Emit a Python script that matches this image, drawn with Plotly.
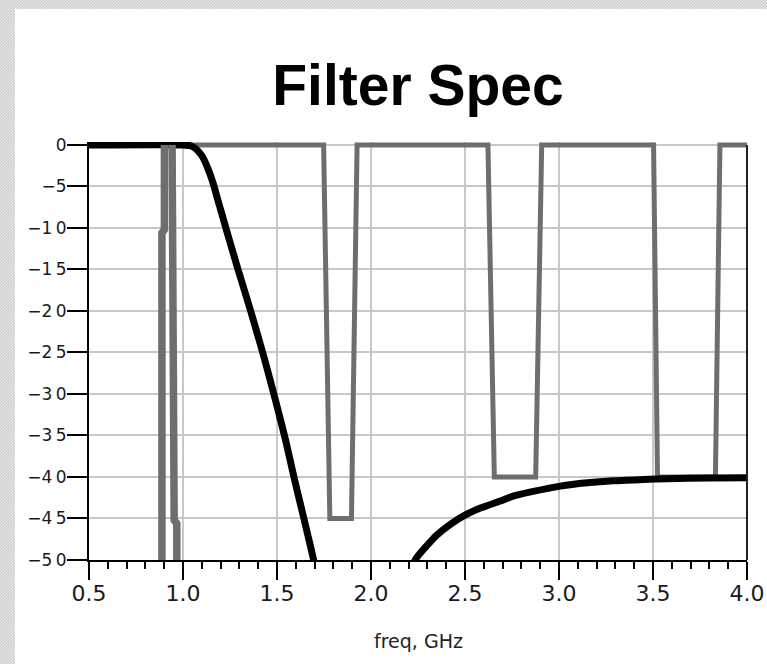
import plotly.graph_objects as go

# ---------------- data ----------------
# spec mask (gray), frequency in GHz, level in dB
mask_f = [0.5, 1.748, 1.781, 1.896, 1.926, 2.622, 2.656, 2.876, 2.908,
          3.503, 3.524, 3.832, 3.856, 4.0]
mask_db = [0, 0, -45, -45, 0, 0, -40, -40, 0, 0, -40, -40, 0, 0]

# narrow first stop band (drawn heavier)
band1_f = [0.901, 0.901, 0.888, 0.888, None, 0.967, 0.967, 0.953, 0.947, 0.943, 0.942]
band1_db = [0, -10.2, -10.6, -60, None, -60, -45.6, -45.2, -20, -8, 0]

# filter response (black)
resp_f = [0.5, 1.0, 1.04, 1.07, 1.10, 1.13, 1.16, 1.19, 1.228, 1.29, 1.36,
          1.43, 1.49, 1.545, 1.59, 1.643, 1.695, 1.75, 1.80, 1.98, 2.16, 2.235,
          2.30, 2.35, 2.422, 2.50, 2.582, 2.688, 2.757, 2.85, 3.007, 3.15, 3.288,
          3.45, 3.573, 3.8, 4.0]
resp_db = [0, 0, -0.1, -0.5, -1.3, -2.7, -4.6, -7.0, -10.0, -14.8, -20.0,
           -25.5, -30.6, -35.5, -40.0, -45.0, -50.0, -56.0, -63.0, -80.0, -56.0, -50.0,
           -48.2, -47.0, -45.7, -44.6, -43.75, -42.9, -42.3, -41.8, -41.1, -40.7, -40.45,
           -40.3, -40.2, -40.12, -40.1]

x_ticks = [0.5, 1.0, 1.5, 2.0, 2.5, 3.0, 3.5, 4.0]
x_labels = ["0.5", "1.0", "1.5", "2.0", "2.5", "3.0", "3.5", "4.0"]
y_ticks = [0, -5, -10, -15, -20, -25, -30, -35, -40, -45, -50]
y_labels = ["0", "\u22125", "\u22121\u20090", "\u22121\u20095", "\u22122\u20090", "\u22122\u20095",
            "\u22123\u20090", "\u22123\u20095", "\u22124\u20090", "\u22124\u20095", "\u22125\u20090"]

title_text = "Filter Spec"
x_title = "freq, GHz"

# ---------------- layout geometry ----------------
W, H = 767, 664
L, R, T, B = 89, 20, 142, 104
PW, PH = W - L - R, H - T - B

def px(x):
    return (x - L) / PW

def py(y):
    return (T + PH - y) / PH

GRAY = "#6e6e6e"

fig = go.Figure()
fig.add_trace(go.Scatter(x=mask_f, y=mask_db, mode="lines",
                         line=dict(color=GRAY, width=5), hoverinfo="skip"))
fig.add_trace(go.Scatter(x=resp_f, y=resp_db, mode="lines",
                         line=dict(color="black", width=7, shape="spline", smoothing=0.6),
                         hoverinfo="skip"))
fig.add_trace(go.Scatter(x=band1_f, y=band1_db, mode="lines",
                         line=dict(color=GRAY, width=7.5), hoverinfo="skip"))

# hatched border strips (left and top)
hatch_bg = "#d2d2d2"
path = []
for c in range(0, H + 20, 3):
    path.append(f"M{px(0)},{py(c)} L{px(15)},{py(c - 15)}")
for c in range(0, W + 12, 3):
    path.append(f"M{px(c - 9)},{py(9)} L{px(c)},{py(0)}")

shapes = [
    dict(type="rect", xref="paper", yref="paper", x0=px(0), x1=px(15), y0=py(H), y1=py(0),
         fillcolor=hatch_bg, line=dict(width=0), layer="below"),
    dict(type="rect", xref="paper", yref="paper", x0=px(0), x1=px(W), y0=py(9), y1=py(0),
         fillcolor=hatch_bg, line=dict(width=0), layer="below"),
    dict(type="path", xref="paper", yref="paper", path=" ".join(path),
         line=dict(color="#ebebeb", width=1), layer="below"),
    # right frame line
    dict(type="line", xref="paper", yref="paper", x0=1, x1=1, y0=0, y1=py(145),
         line=dict(color="#202020", width=2), layer="above"),
]

fig.update_layout(
    width=W, height=H,
    margin=dict(l=L, r=R, t=T, b=B, autoexpand=False),
    paper_bgcolor="white", plot_bgcolor="white",
    showlegend=False,
    shapes=shapes,
    title=dict(text=f"<b>{title_text}</b>", x=(L + PW / 2) / W, xanchor="center",
               y=1 - 65 / H, yanchor="top", yref="container",
               font=dict(family="Liberation Sans, Arial", size=57, color="black")),
    annotations=[dict(text=x_title, xref="paper", yref="paper", x=0.5, y=py(641),
                      xanchor="center", yanchor="middle", showarrow=False,
                      font=dict(family="DejaVu Sans", size=19, color="#222222"))],
)

fig.update_xaxes(
    range=[0.5, 4.0], tickvals=x_ticks, ticktext=x_labels,
    showgrid=True, gridcolor="#c8c8c8", gridwidth=2, zeroline=False,
    ticks="outside", ticklen=18, tickwidth=2, tickcolor="black",
    showline=True, linecolor="black", linewidth=2,
    tickfont=dict(family="DejaVu Sans", size=22, color="#1a1a1a"),
    ticklabelstandoff=-5,
    minor=dict(tick0=0.5, dtick=0.1, ticks="outside", ticklen=7, tickwidth=2,
               tickcolor="black", showgrid=False),
)
fig.update_yaxes(
    range=[-50, 0.35], tickvals=y_ticks, ticktext=y_labels,
    showgrid=True, gridcolor="#c8c8c8", gridwidth=2, zeroline=False,
    ticks="outside", ticklen=20, tickwidth=2, tickcolor="black",
    showline=True, linecolor="black", linewidth=2,
    tickfont=dict(family="DejaVu Sans", size=17, color="#1a1a1a"),
    ticklabelstandoff=-3,
)

fig.write_html("out.html")
